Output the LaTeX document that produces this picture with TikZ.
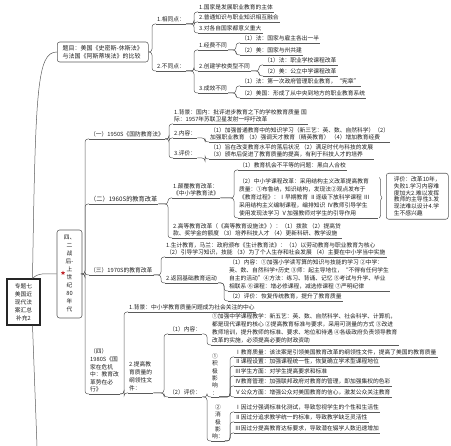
\documentclass[tikz,border=0pt]{standalone}
\usepackage{fontspec}
\setmainfont{Noto Sans CJK SC}
\usetikzlibrary{shapes.geometric, decorations.pathreplacing}
\definecolor{mLine}{HTML}{5A5A5A}
\definecolor{mText}{HTML}{1E1E1E}
\definecolor{mRed}{HTML}{C0272D}

\begin{document}
\begin{tikzpicture}[x=1pt, y=-1pt,
    lnk/.style={draw=mLine, line width=0.5pt, rounded corners=3pt},
    tp/.style={anchor=south west, inner xsep=1pt, inner ysep=1.4pt, align=left, text=mText,
      font=\fontsize{5.75}{7}\selectfont},
    tp8/.style={tp, font=\fontsize{5.75}{8}\selectfont},
    vert/.style={tp, align=center, font=\fontsize{5.75}{7.4}\selectfont},
    box/.style={draw=mLine, line width=0.55pt, rounded corners=2.5pt, text=mText, inner sep=1.5pt}]
  \useasboundingbox (0,0) rectangle (451,446);

  % root and the two boxed topics
  \node[draw=black!85, line width=1.1pt, minimum width=33pt, minimum height=46pt, align=center,
    text=mText, inner sep=1pt, font=\fontsize{5.75}{8}\selectfont] (root) at (23.5,302)
    {专题七\\美国近\\现代法\\案汇总\\补充2};
  \node[box, anchor=west, minimum width=91pt, minimum height=20pt, align=left,
    font=\fontsize{6}{7.6}\selectfont] (title) at (57,52)
    {题目：美国《史密斯-休斯法》\\与法国《阿斯蒂埃法》的比较};
  \node[box, minimum width=25pt, minimum height=88pt, align=center,
    font=\fontsize{5.75}{8}\selectfont] (four) at (69.5,274)
    {四、\\二\\战\\后-\\上\\世\\纪\\80\\年\\代};
  \node[star, star points=5, star point ratio=2.2, fill=mRed, minimum size=4.5pt, inner sep=0pt] (mark) at (63,273) {};
  \coordinate (more) at (37,446);

  % comparison branch
  \node[tp] (same) at (156,24) {1.相同点：};
  \node[tp] (diff) at (156,71) {2.不同点：};
  \node[tp] (s1) at (198,12) {1.国家是发展职业教育的主体};
  \node[tp] (s2) at (198,22) {2.普通知识与职业知识相互融合};
  \node[tp] (s3) at (198,33) {3.对各自国家都意义重大};
  \node[tp] (d1) at (198,50) {1.经费不同};
  \node[tp] (d2) at (198,71) {2.创建学校类型不同};
  \node[tp] (d3) at (198,93) {3.成效不同};
  \node[tp] (d1a) at (240,43) {（1）法：国家与雇主各出一半};
  \node[tp] (d1b) at (240,55) {（2）美：国家与州共建};
  \node[tp] (d2a) at (263,65) {（1）法：职业学校课程改革};
  \node[tp] (d2b) at (263,76) {（2）美：公立中学课程改革};
  \node[tp] (d3a) at (240,86) {（1）法：第一次政府管理职业教育，“宪章”};
  \node[tp] (d3b) at (240,98) {（2）美国：形成了从中央到地方的职业教育系统};

  % post-war branch
  \node[tp] (c1) at (89,139) {（一）1950S《国防教育法》};
  \node[tp, font=\fontsize{6.2}{7}\selectfont] (c2) at (89,204) {（二）1960S的教育改革};
  \node[tp] (c3) at (89,275) {（三）1970S的教育改革};
  \node[tp, font=\fontsize{5.75}{7.6}\selectfont] (c4) at (89,394)
    {（四）\\1980S《国\\家在危机\\中：教育改\\革势在必\\行》};

  \node[tp] (c1a) at (173,124) {1.背景：国内：批评进步教育之下的学校教育质量 国\\际：1957年苏联卫星发射一呼吁改革};
  \node[tp] (c1b) at (173,138) {2.内容：};
  \node[tp] (c1c) at (173,158) {3.评价：};
  \node[tp] (c1b1) at (209,142)
    {（1）加强普通教育中的知识学习（新三艺：英、数、自然科学）（2）\\加强职业教育 （3）强调天才教育（精英教育） （4）增加教育经费};
  \node[tp] (c1c1) at (209,159)
    {（1）旨在改变教育水平的落后状况 （2）满足时代与科技的发展\\（3）颁布后促进了教育质量的提高，有利于科技人才的培养};

  \node[tp] (c2a) at (172,198) {1.颠覆教育改革：\\《中小学教育法》};
  \node[tp] (c2b) at (172,238)
    {2.高等教育改革（《高等教育设施法》）：（1）拨款 （2）提高贷\\款、奖学金的额度 （3）培养科技人才 （4）更新科研、教学设施};
  \node[tp] (c2a1) at (238,170) {（1）教育机会不平等的问题：黑白人合校};
  \node[tp8, text width=138pt] (c2a2) at (238,218)
    {（2）中小学课程改革：采用结构主义改革提高教育\\质量：①布鲁纳，知识结构，发现法②观点发布于\\《教育过程》：Ⅰ早期教育 Ⅱ逐级下放科学课程 Ⅲ\\采用结构主义编制课程，编排知识 Ⅳ教师引导学生\\使用发现法学习 Ⅴ加强教师对学生的引导作用};
  \node[box, anchor=north west, minimum width=62pt, minimum height=46pt, align=left,
    font=\fontsize{5.8}{6.9}\selectfont] (sum) at (386,173)
    {评价：改革10年，\\失败1.学习内容难\\度加大2.难以发挥\\教师的主导性3.发\\现法难以设计4.学\\生不感兴趣};

  \node[tp] (c3a) at (165,257)
    {1.生计教育，马兰：政府颁布《生计教育法》：（1）以劳动教育与职业教育为核心\\（2）引导学习知识，技能 （3）为了个人生存和社会发展 （4）主要在中小学当中实施};
  \node[tp] (c3b) at (165,283) {2.返回基础教育运动};
  \node[tp8] (c3b1) at (228,291)
    {（1）内容：①加强小学读写算的知识与技能的学习 ②中学：\\英、数、自然科学+历史 ③师：起主导地位，“不得有任何学生\\自主的活动”④方法：练习、背诵、记忆 ⑤考试与升学、毕业\\相联系 ⑥课程：增必修课程，减选修课程 ⑦严明纪律};
  \node[tp] (c3b2) at (228,301) {（2）评价：恢复传统教育，提升了教育质量};

  \node[tp] (c4a) at (128,312) {1.背景：中小学教育质量问题成为社会关注的中心};
  \node[tp8] (c4b) at (128,393) {2.提高教\\育质量的\\纲领性文\\件：};
  \node[tp] (c4b1) at (168,334) {（1）内容：};
  \node[tp] (c4b2) at (168,397) {（2）评价：};
  \node[tp8] (c4b1a) at (211,345)
    {①加强中学课程教学：新五艺：英、数、自然科学、社会科学、计算机，\\都是现代课程的核心 ②提高教育标准与要求，采用可测量的方式 ③改进\\教师培训，提升教师的标准、要求、地位和待遇 ④各级政府负责领导教育\\改革的实施，必须提高必要的财政资助};
  \node[vert] (pos) at (211,397) {①\\积\\极\\影\\响\\：};
  \node[vert] (neg) at (211,441) {②\\消\\极\\影\\响：};
  \node[tp] (p1) at (234,357) {Ⅰ教育质量：该法案是引领美国教育改革的纲领性文件，提高了美国的教育质量};
  \node[tp] (p2) at (234,366) {Ⅱ课程设置：加强课程统一性，恢复确立学术型课程地位};
  \node[tp] (p3) at (234,376) {Ⅲ学生方面：对学生提高要求和标准};
  \node[tp] (p4) at (234,386) {Ⅳ教育管理：加强联邦政府对教育的管理，即加强集权的色彩};
  \node[tp] (p5) at (234,397) {Ⅴ公众方面：增强公众对美国教育的信心，激发公众关注教育};
  \node[tp] (n1) at (234,412) {Ⅰ因过分强调标准化测试，导致忽视学生的个性和生活性};
  \node[tp] (n2) at (234,422) {Ⅱ因过分追求教学统一的标准，导致教学缺乏灵活性};
  \node[tp] (n3) at (234,433) {Ⅲ因过分提高教育达标要求，导致潜在辍学人数迅速增加};

  % underlines
  \foreach \n in {same,diff,s1,s2,s3,d1,d2,d3,d1a,d1b,d2a,d2b,d3a,d3b,
      c1,c2,c3,c4,c1a,c1b,c1c,c1b1,c1c1,c2a,c2b,c2a1,c2a2,c3a,c3b,c3b1,c3b2,
      c4a,c4b,c4b1,c4b2,c4b1a,pos,neg,p1,p2,p3,p4,p5,n1,n2,n3}
    \draw[lnk] (\n.south west) -- (\n.south east);

  % connectors
  \draw[lnk] ([xshift=9pt]root.north) .. controls +(3,-190) and +(-20,0) .. (title.west);
  \draw[lnk] ([xshift=9pt]root.north) .. controls +(6,-6) and +(-12,0) .. (four.west);
  \draw[lnk] ([xshift=9pt]root.south) -- (more);
  \foreach \c in {same,diff}
    \draw[lnk] (title.east) -| ([xshift=-4pt]\c.south west) -- (\c.south west);
  \foreach \c in {c1,c2,c3,c4}
    \draw[lnk] (four.east) -| ([xshift=-4pt]\c.south west) -- (\c.south west);
  \foreach \p/\c in {same/s1,same/s2,same/s3,diff/d1,diff/d2,diff/d3,d1/d1a,d1/d1b,d2/d2a,d2/d2b,
      d3/d3a,d3/d3b,c1/c1a,c1/c1b,c1/c1c,c1b/c1b1,c1c/c1c1,c2/c2a,c2/c2b,c2a/c2a1,c2a/c2a2,
      c3/c3a,c3/c3b,c3b/c3b1,c3b/c3b2,c4/c4a,c4/c4b,c4b/c4b1,c4b/c4b2,c4b1/c4b1a,c4b2/pos,c4b2/neg,
      pos/p1,pos/p2,pos/p3,pos/p4,pos/p5,neg/n1,neg/n2,neg/n3}
    \draw[lnk] (\p.south east) -| ([xshift=-4pt]\c.south west) -- (\c.south west);
  \draw[lnk, rounded corners=0pt, decorate, decoration={brace, amplitude=2.5pt}]
    ([xshift=1pt]c2a2.north east) -- ([xshift=1pt]c2a2.south east);
\end{tikzpicture}
\end{document}
